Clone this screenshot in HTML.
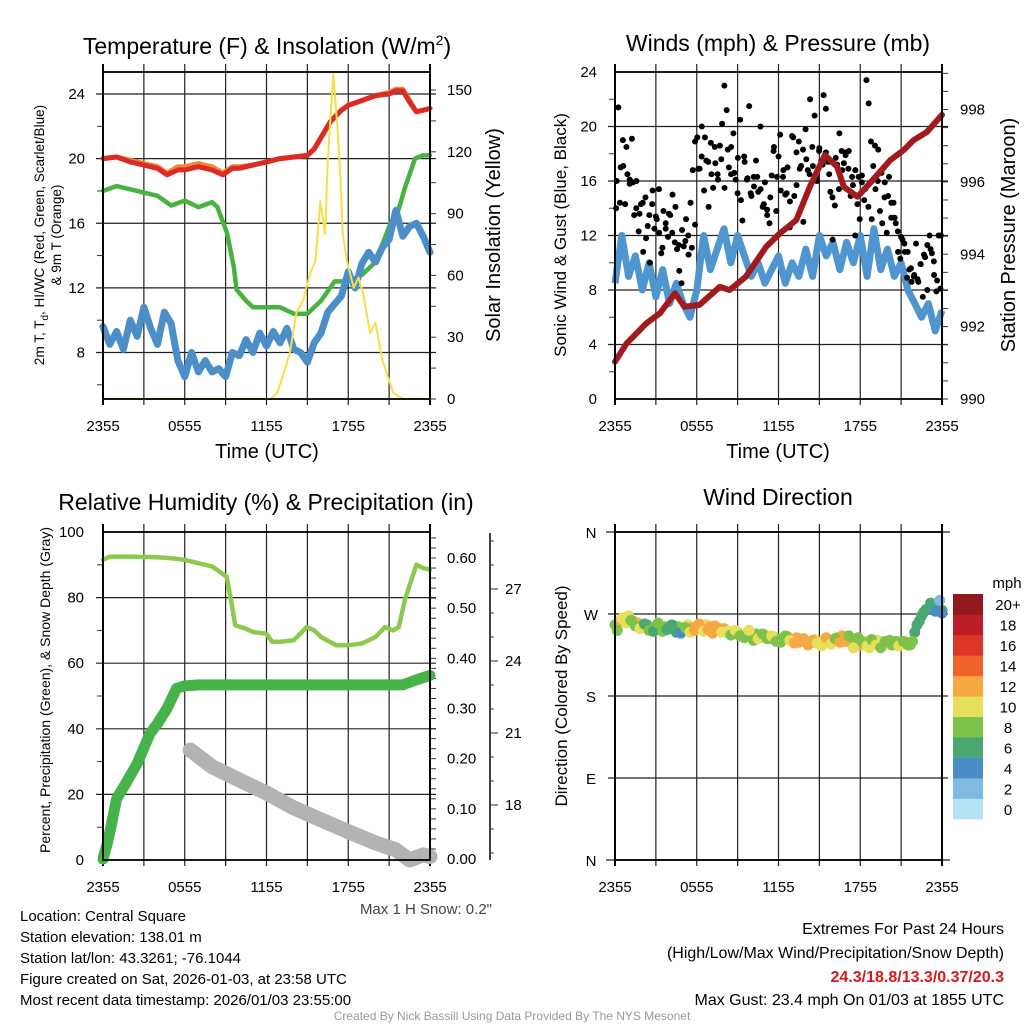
<!DOCTYPE html>
<html><head><meta charset="utf-8">
<style>
html,body{margin:0;padding:0;background:#fff;}
svg{display:block;font-family:"Liberation Sans",Arial,sans-serif;}
</style></head>
<body>
<svg id="c" width="1024" height="1024" viewBox="0 0 1024 1024" xmlns="http://www.w3.org/2000/svg">
<rect width="1024" height="1024" fill="#fff"/>
<g id="p1"></g>
<g id="p2"></g>
<g id="p3"></g>
<g id="p4"></g>

<text x="267" y="54" font-size="23" text-anchor="middle">Temperature (F) &amp; Insolation (W/m<tspan dy="-9" font-size="14">2</tspan><tspan dy="9">)</tspan></text>
<text x="778" y="51" font-size="23" text-anchor="middle">Winds (mph) &amp; Pressure (mb)</text>
<text x="266" y="510" font-size="23" text-anchor="middle">Relative Humidity (%) &amp; Precipitation (in)</text>
<text x="778" y="505" font-size="23" text-anchor="middle">Wind Direction</text>

<text x="267" y="458" font-size="20" text-anchor="middle">Time (UTC)</text>
<text x="778" y="458" font-size="20" text-anchor="middle">Time (UTC)</text>

<text transform="translate(44,235) rotate(-90)" font-size="13.5" text-anchor="middle">2m T, T<tspan dy="4" font-size="10">d</tspan><tspan dy="-4">, HI/WC (Red, Green, Scarlet/Blue)</tspan></text>
<text transform="translate(61,235) rotate(-90)" font-size="13.5" text-anchor="middle">&amp; 9m T (Orange)</text>
<text transform="translate(500,235) rotate(-90)" font-size="20" text-anchor="middle">Solar Insolation (Yellow)</text>
<text transform="translate(566,235) rotate(-90)" font-size="17" text-anchor="middle">Sonic Wind &amp; Gust (Blue, Black)</text>
<text transform="translate(1015,235) rotate(-90)" font-size="20" text-anchor="middle">Station Pressure (Maroon)</text>
<text transform="translate(50,690) rotate(-90)" font-size="14" text-anchor="middle">Percent, Precipitation (Green), &amp; Snow Depth (Gray)</text>
<text transform="translate(567,696) rotate(-90)" font-size="17" text-anchor="middle">Direction (Colored By Speed)</text>

<text x="492" y="914" font-size="15" fill="#444" text-anchor="end">Max 1 H Snow: 0.2"</text>

<g font-size="15">
<text x="20" y="921">Location: Central Square</text>
<text x="20" y="942">Station elevation: 138.01 m</text>
<text x="20" y="963">Station lat/lon: 43.3261; -76.1044</text>
<text x="20" y="984">Figure created on Sat, 2026-01-03, at 23:58 UTC</text>
<text x="20" y="1005">Most recent data timestamp: 2026/01/03 23:55:00</text>
</g>
<g font-size="16" text-anchor="end">
<text x="1004" y="934">Extremes For Past 24 Hours</text>
<text x="1004" y="958">(High/Low/Max Wind/Precipitation/Snow Depth)</text>
<text x="1004" y="982" fill="#d7191c" font-weight="bold">24.3/18.8/13.3/0.37/20.3</text>
<text x="1004" y="1005">Max Gust: 23.4 mph On 01/03 at 1855 UTC</text>
</g>
<text x="512" y="1020" font-size="12" fill="#999" text-anchor="middle">Created By Nick Bassill Using Data Provided By The NYS Mesonet</text>
</svg>
<script>
// ---------- DATA ----------
const timeLabels = ["2355","0555","1155","1755","2355"];
// Panel 1 (hours since 2355)
const tempHours = [0,1,2,3,4,4.7,5.5,6,7,8,8.8,9.5,10,11,12,13,14,15,15.5,16,16.7,17.5,18,19,20,21,21.5,22,22.5,23,23.5,24];
const tempVals  = [20.0,20.1,19.8,19.6,19.4,19.0,19.3,19.3,19.5,19.3,19.0,19.4,19.4,19.6,19.8,20.0,20.1,20.2,20.6,21.3,22.3,23.0,23.3,23.6,23.9,24.0,24.2,24.2,23.5,22.9,23.0,23.1];
const temp9mVals= [20.0,20.1,19.9,19.7,19.5,19.1,19.5,19.5,19.7,19.5,19.1,19.5,19.5,19.6,19.8,20.0,20.1,20.2,20.6,21.3,22.3,23.0,23.3,23.6,23.9,24.1,24.3,24.3,23.6,22.9,23.0,23.1];
const dewHours = [0,1,2,3,4,5,6,7,8,8.4,9.1,9.6,9.8,10.5,11,12,13,14,15,16,17,18,19,20,21.1,21.6,22.2,22.9,23.5,24];
const dewVals  = [18.0,18.3,18.1,17.9,17.7,17.1,17.4,17.0,17.3,17.0,15.4,13.3,11.9,11.2,10.8,10.8,10.8,10.4,10.4,11.2,12.4,12.4,12.8,13.6,16.0,16.6,18.3,20.0,20.2,20.2];
const wcHours = [0,0.5,1,1.5,2,2.5,3,3.5,4,4.5,5,5.5,6,6.5,7,7.5,8,8.5,9,9.5,10,10.5,11,11.5,12,12.5,13,13.5,14,14.5,15,15.5,16,16.5,17,17.5,18,18.5,19,19.5,20,20.5,21,21.5,22,22.5,23,23.5,24];
const wcVals  = [9.6,8.5,9.3,8.2,10.0,9.0,10.8,9.5,8.5,10.5,9.8,7.5,6.5,8.0,6.8,7.5,6.8,7.0,6.5,8.0,7.8,8.8,8.0,9.2,8.4,9.3,8.6,9.5,8.2,8.0,7.4,8.6,9.2,10.5,11.0,11.5,13.0,12.0,13.5,14.2,13.6,14.5,15.0,16.8,15.2,15.8,16.0,15.2,14.2];
const solarHours = [0,12.3,12.8,13.7,14.2,14.7,15.2,15.6,15.95,16.3,16.5,16.9,17.2,17.4,17.6,17.9,18.4,18.75,19.1,19.6,20.0,20.5,21.3,22,24];
const solarVals  = [0,0,3,22,42,48,61,67,96,80,116,158,132,111,80,67,54,59,51,32,37,19,3,0,0];
// Panel 2
const sonicVals = [8.5,12,9,10.5,8,10,7.5,9.5,7,8.5,7,6,8,12,9.5,11,12.5,10,12,10.5,9,10,8.5,9.5,10.5,8.5,10,9,11,9,12,10.5,11.5,9.5,11.5,10,12,9,12.5,9.5,11,9,10,8,7,6,7,5,6.5];
const gustVals = [14,21.4,17,19,14.3,16.5,15.8,19.1,13.5,16,12.3,14.3,10.8,14.8,12.7,10,14.3,12.5,13.2,15.4,10.7,13.8,12.5,11.9,13.5,15,11.5,11,9.4,8.5,11.2,13.2,12,14.4,16.8,18.9,19.2,16.9,20,15.3,17.5,14.1,18.8,15.5,17.3,16.5,18.6,20.2,23,21.2,17,18.5,19.5,16.1,17.7,20.5,13.1,17.4,16.1,21.5,14.9,16.3,17.5,15.2,20,14.1,15.9,13.5,12.9,16.4,18.5,13.8,17.8,15.3,16.3,15,17,12.6,19.3,14.9,15.7,18.9,17.1,13,19.8,16.8,22,18.5,20.8,16,18.2,17.5,22.3,21.3,17.4,15.2,11.7,14.2,17.2,19.5,18.2,17.3,18.1,16.9,14.9,15.7,12,14.3,13.2,16.4,14.6,23.4,21.7,18.9,17.1,15.4,16,13.8,12.9,14.8,12.2,16.3,13.3,14.4,12.9,10.8,10.3,11.7,10.8,8.9,9.5,8.6,9,11.4,8.6,9.9,7.5,10.4,8,12,10.7,9.1,7.9,12,12];
const gustVals2 = [16,14.4,17.1,18.5,16.1,15.9,14,13.6,14.4,11.8,13.5,15.3,13.4,12.2,11.1,12.9,13.6,12.2,14.1,11.3,12.4,11.6,10.6,11.1,12.8,16.9,17.8,19.2,17.4,16.5,18.5,16.1,17.6,15.5,18.3,16.5,16.6,15.1,14.6,17.8,16.2,15.1,15.6,16.3,15.4,14.3,13.9,14.8,18.2,16.3,19.4,16.8,15.1,14.5,19.2,18.1,16.9,18.3,17.6,16.5,17.1,16.3,18.4,17.2,18.1,16.5,14.8,17.7,15.4,16.8,17.9,18.2,16.3,16.8,16.3,15.9,15.4,14.1,13.2,18.6,18.3,16.6,15.9,14.9,14.4,13.3,12.3,11.9,11.4,10.8,9.6,9.1,8.8,9.9,10.6,11.3,11.0,10.1,8.7,8.1];
const presHours = [0,0.86,2.3,3.3,4.4,5.1,6.2,7.7,8.4,9.6,11.1,12.1,13.3,14.3,15.4,16.3,16.8,17.8,18.7,20.2,21.2,21.9,22.9,24];
const presVals  = [991.03,991.54,992.09,992.37,992.92,992.55,992.60,993.10,993.01,993.38,994.21,994.58,994.94,995.86,996.74,996.42,995.86,995.59,995.96,996.60,996.88,997.15,997.38,997.85];
// Panel 3
const rhHours = [0,0.5,2,4,5,6,7,8,9.07,9.4,9.7,10.5,11,12,12.4,13,14,14.95,15.5,16,17.1,18,19,20,20.7,21.3,21.7,22.2,23.0,23.5,24];
const rhVals  = [91.5,92.5,92.5,92.3,92.0,91.5,90.5,89.5,86.4,79,71.6,70.5,69.5,69,66.6,66.5,67,71,70,68,65.5,65.5,66,68,71,70,71,80,90,89,88.5];
const precipHours = [0,0.3,0.5,1.0,1.7,2.5,3.45,4.0,4.7,5.4,6.0,7.1,22,23,24];
const precipVals  = [0,0.03,0.053,0.12,0.152,0.19,0.25,0.27,0.30,0.34,0.345,0.347,0.347,0.357,0.366];
const snowHours = [6.4,8,10,12,14,16,18,20,21.5,22.5,23.5,24];
const snowVals  = [20.29,19.6,19.04,18.5,17.88,17.38,16.89,16.42,16.13,15.71,15.92,15.85];
// Panel 4
const dirVals = [258,262,266,268,262,260,256,258,255,257,254,256,255,257,256,252,258,255,256,254,258,256,257,254,254,251,248,250,247,249,246,248,244,247,243,245,243,242,245,241,244,240,240,238,242,239,241,238,240,244,246,242,238,241,236,240,233,238,241,236,238,236,240,237,239,236,250,262,272,276,280,278,274];
const dirSpdVals = [8,12,10,11,9,12,8,7,8,9,7,8,6,7,8,9,10,12,12,12,11,12,13,12,12,10,9,10,8,10,10,8,9,10,8,10,8,9,12,10,12,12,13,12,10,12,11,12,10,12,13,10,9,8,12,10,10,8,10,10,10,9,8,10,9,8,6,6,7,5,4,6,7];
const dirVals2 = [252,265,260,263,257,254,259,252,251,260,251,253,258,250,249,255,250,252,259,251,253,249,255,250,250,247,252,246,244,252,241,243,248,243,246,240,239,246,241,238,239,243,236,241,238,235,244,237,243,239,240,246,233,244,239,235,242,236,233,240,241,238,235,240,236,240,258,268,275,282,273,285,271];
const dirSpdVals2 = [9,11,10,8,8,11,7,8,6,8,8,7,7,6,5,8,11,12,13,11,12,12,12,11,11,9,10,9,9,10,8,10,8,9,10,9,9,8,10,12,13,12,12,13,11,10,12,10,9,13,12,9,10,8,9,10,8,10,8,9,9,8,10,8,8,8,6,7,6,6,4,3,5];
const speedBinLabels = ["0","2","4","6","8","10","12","14","16","18","20+"];
const speedBinColors = ["#b4e3f8","#7fbae3","#4a8dc5","#4aa772","#7cc24b","#e6df5a","#f6a843","#ef622c","#de3529","#bc1e26","#931a1c"];

// ---------- HELPERS ----------
const NS="http://www.w3.org/2000/svg";
function mk(parent,tag,attrs){const e=document.createElementNS(NS,tag);for(const k in attrs)e.setAttribute(k,attrs[k]);parent.appendChild(e);return e;}
function lin(d0,d1,r0,r1){return v=>r0+(v-d0)*(r1-r0)/(d1-d0);}
function pathFrom(xs,ys,fx,fy){return xs.map((h,i)=>(i?"L":"M")+fx(h).toFixed(1)+","+fy(ys[i]).toFixed(1)).join("");}
function seq(n,step){return Array.from({length:n},(_,i)=>i*step);}

function frame(g,X0,X1,Y0,Y1,hLines,prefix){
  const fx=lin(0,24,X0,X1);
  for(let h=3;h<24;h+=3){
    const l=mk(g,"line",{x1:fx(h),x2:fx(h),y1:Y0-8,y2:Y1+6,stroke:"#222","stroke-width":1.2});
    
    
  }
  hLines.forEach(y=>{
    const l=mk(g,"line",{x1:X0-7,x2:X1+6,y1:y,y2:y,stroke:"#222","stroke-width":1.2});
    
    
  });
  for(let h=0;h<=24;h+=6){
    const t=mk(g,"text",{x:fx(h),y:Y1+32,"font-size":15,"text-anchor":"middle"});
    t.textContent=timeLabels[h/6];
    
    
  }
  [0,24].forEach(h=>{mk(g,"line",{x1:fx(h),x2:fx(h),y1:Y0-8,y2:Y1+6,stroke:"#000","stroke-width":2});});
  return fx;
}
function border(g,X0,X1,Y0,Y1,name){
  const r=mk(g,"rect",{x:X0,y:Y0,width:X1-X0,height:Y1-Y0,fill:"none",stroke:"#000","stroke-width":1.8});
  
  
}
function ticks(g,x,y0,y1,fy,vals,len){vals.forEach(v=>{const y=fy(v);if(y>=y1-0.5&&y<=y0+0.5)mk(g,"line",{x1:x,x2:x+len,y1:y,y2:y,stroke:"#333","stroke-width":1});});}
function labels(g,x,fy,vals,anchor,fmt,name,size){
  vals.forEach(v=>{const t=mk(g,"text",{x:x,y:fy(v)+5,"font-size":size||15,"text-anchor":anchor});t.textContent=fmt(v);
    
    });
}

// ---------- PANEL 1 ----------
(function(){
  const g=document.getElementById("p1");
  const X0=103,X1=430,Y0=72,Y1=399;
  const fy=lin(8,24,352.5,94), fs=lin(0,150,399,90);
  const fx=frame(g,X0,X1,Y0,Y1,[24,20,16,12,8].map(fy),"p1");
  ticks(g,X0,Y1,Y0,fy,[6,10,14,18,22],-6);
  ticks(g,X1,Y1,Y0,fs,seq(11,15),6);
  labels(g,85,fy,[8,12,16,20,24],"end",v=>v,"p1-left-tick-label");
  labels(g,447,fs,[0,30,60,90,120,150],"start",v=>v,"p1-right-tick-label");
  const ps=[[tempHours,temp9mVals,"#f08a3a",5,"orange-9m-temp-line",fy],
            [tempHours,tempVals,"#dc2a24",5,"red-2m-temp-line",fy],
            [dewHours,dewVals,"#47b23f",4.5,"green-dewpoint-line",fy],
            [wcHours,wcVals,"#4b8ec8",7,"blue-windchill-line",fy],
            [solarHours,solarVals,"#f7df4a",2,"yellow-insolation-line",fs]];
  ps.forEach(p=>{const e=mk(g,"path",{d:pathFrom(p[0],p[1],fx,p[5]),fill:"none",stroke:p[2],"stroke-width":p[3],"stroke-linejoin":"round","stroke-linecap":"round"});
    
    });
  border(g,X0,X1,Y0,Y1,"p1-plot-border");
})();

// ---------- PANEL 2 ----------
(function(){
  const g=document.getElementById("p2");
  const X0=615,X1=942,Y0=72,Y1=399;
  const fy=lin(0,24,399,72), fp=lin(990,998,399,109.5);
  const fx=frame(g,X0,X1,Y0,Y1,[4,8,12,16,20].map(fy),"p2");
  ticks(g,X0,Y1,Y0,fy,[2,6,10,14,18,22],-6);
  ticks(g,X1,Y1,Y0,fp,seq(19,0.5).map(v=>990+v),6);
  labels(g,597,fy,[0,4,8,12,16,20,24],"end",v=>v,"p2-left-tick-label");
  labels(g,960,fp,[990,992,994,996,998],"start",v=>v,"p2-right-tick-label");
  const sh=sonicVals.map((v,i)=>i*24/(sonicVals.length-1));
  const s=mk(g,"path",{d:pathFrom(sh,sonicVals,fx,fy),fill:"none",stroke:"#4f96d0","stroke-width":7,"stroke-linejoin":"round"});
  
  
  [gustVals,gustVals2].forEach(arr=>arr.forEach((v,i)=>{
    const c=mk(g,"circle",{cx:fx((i+0.5)*24/(arr.length)),cy:fy(v),r:3,fill:"#000"});
    
    
  }));
  const p=mk(g,"path",{d:pathFrom(presHours,presVals,fx,fp),fill:"none",stroke:"#a11a1c","stroke-width":6,"stroke-linejoin":"round","stroke-linecap":"round"});
  
  
  border(g,X0,X1,Y0,Y1,"p2-plot-border");
})();

// ---------- PANEL 3 ----------
(function(){
  const g=document.getElementById("p3");
  const X0=103,X1=430,Y0=532,Y1=860;
  const fy=lin(0,100,860,532), fpr=lin(0,0.6,859,558), fsn=lin(18,27,805,589);
  const fx=frame(g,X0,X1,Y0,Y1,[20,40,60,80].map(fy),"p3");
  ticks(g,X0,Y1,Y0,fy,[10,30,50,70,90],-6);
  ticks(g,X1,Y1,Y0,fpr,seq(33,0.02),6);
  labels(g,84,fy,[0,20,40,60,80,100],"end",v=>v,"p3-left-tick-label");
  labels(g,447,fpr,[0,0.1,0.2,0.3,0.4,0.5,0.6],"start",v=>v.toFixed(2),"p3-precip-tick-label");
  const ax=mk(g,"line",{x1:490,x2:490,y1:533,y2:860,stroke:"#000","stroke-width":1.5});
  
  
  ticks(g,490,860,533,fsn,seq(14,1).map(v=>16+v),4);
  ticks(g,490,860,533,fsn,[18,21,24,27],8);
  labels(g,505,fsn,[18,21,24,27],"start",v=>v,"p3-snow-tick-label");
  const sn=mk(g,"path",{d:pathFrom(snowHours,snowVals,fx,fsn),fill:"none",stroke:"#b3b3b3","stroke-width":15,"stroke-linejoin":"round","stroke-linecap":"round"});
  
  
  const pr=mk(g,"path",{d:pathFrom(precipHours,precipVals,fx,fpr),fill:"none",stroke:"#46b34a","stroke-width":11,"stroke-linejoin":"round","stroke-linecap":"round"});
  
  
  const rh=mk(g,"path",{d:pathFrom(rhHours,rhVals,fx,fy),fill:"none",stroke:"#8dc94e","stroke-width":4.5,"stroke-linejoin":"round","stroke-linecap":"round"});
  
  
  border(g,X0,X1,Y0,Y1,"p3-plot-border");
})();

// ---------- PANEL 4 ----------
(function(){
  const g=document.getElementById("p4");
  const X0=615,X1=942,Y0=532,Y1=860;
  const fy=lin(0,360,860,532);
  const fx=frame(g,X0,X1,Y0,Y1,[90,180,270].map(fy),"p4");
  [0,360].forEach(v=>mk(g,"line",{x1:606,x2:950,y1:fy(v),y2:fy(v),stroke:"#222","stroke-width":1.2}));
  const dl=["N","E","S","W","N"];
  [0,90,180,270,360].forEach((v,i)=>{const t=mk(g,"text",{x:591,y:fy(v)+6,"font-size":15,"text-anchor":"middle"});t.textContent=dl[i];
    
    });
  [[dirVals,dirSpdVals,0],[dirVals2,dirSpdVals2,0.5]].forEach(set=>{
    const dv=set[0], sv=set[1];
    dv.forEach((d,i)=>{
      const b=Math.min(10,Math.floor(sv[i]/2));
      const c=mk(g,"circle",{cx:fx(Math.min(24,(i+set[2])*24/(dv.length-1))),cy:fy(d),r:5.5,fill:speedBinColors[b]});
      
      
    });
  });
  border(g,X0,X1,Y0,Y1,"p4-plot-border");
  // colorbar
  const cb=mk(g,"g",{});
  
  
  const bh=(819-594)/11;
  speedBinColors.forEach((col,i)=>{
    const y=819-(i+1)*bh;
    const r=mk(cb,"rect",{x:953,y:y,width:30,height:bh+0.3,fill:col});
    
    
    const t=mk(cb,"text",{x:1008,y:y+bh/2+6,"font-size":15,"text-anchor":"middle"});
    t.textContent=speedBinLabels[i];
    
    
  });
  const u=mk(cb,"text",{x:1007,y:588,"font-size":15,"text-anchor":"middle"});
  u.textContent="mph";
  
  
})();
</script>
</body></html>
